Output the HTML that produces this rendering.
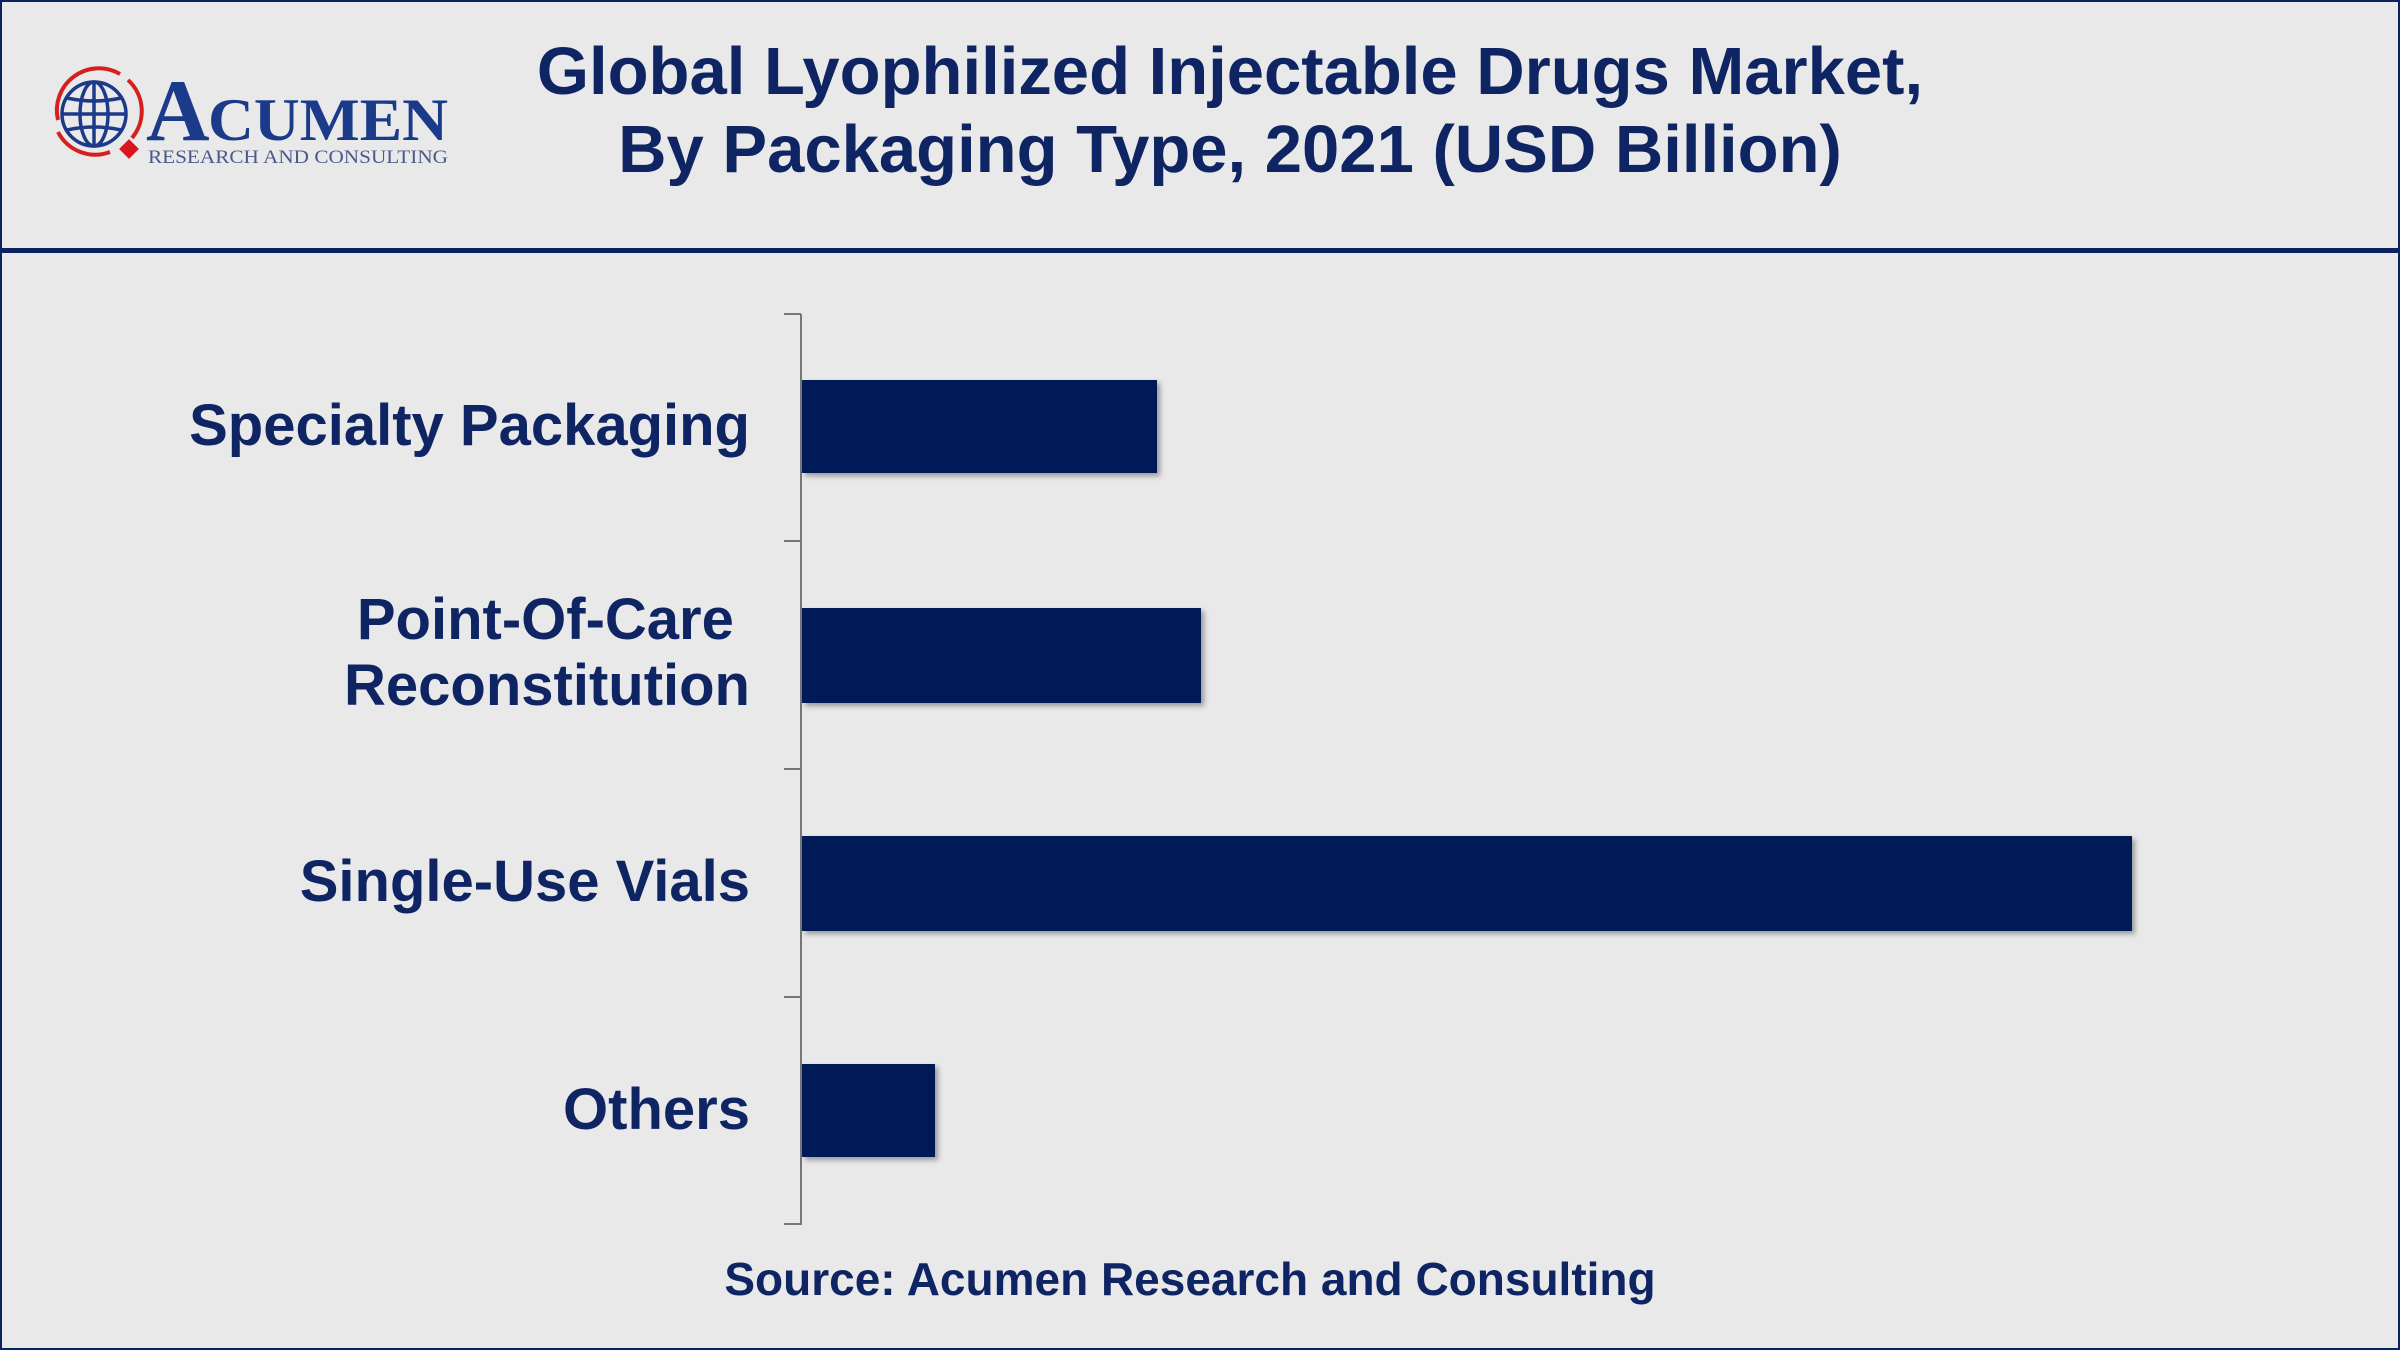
<!DOCTYPE html>
<html><head><meta charset="utf-8"><style>
html,body{margin:0;padding:0}
body{width:2400px;height:1350px;background:#e9e9e9;position:relative;overflow:hidden;font-family:"Liberation Sans",Arial,sans-serif}
.frame{position:absolute;left:0;top:0;width:2396px;height:1346px;border:2px solid #0a2260}
.hl{position:absolute;left:0;top:248px;width:2400px;height:5px;background:#0a2260}
.title{position:absolute;left:330px;width:1800px;text-align:center;top:33px;font-weight:bold;font-size:67px;line-height:78px;color:#0f2463}
.lab{position:absolute;right:1650px;text-align:right;font-weight:bold;font-size:58px;line-height:66px;color:#0f2463;white-space:nowrap}
.bar{position:absolute;left:802px;background:#001a57;box-shadow:3px 3px 5px rgba(0,0,0,0.35)}
.axis{position:absolute;left:800px;top:314px;width:2px;height:911px;background:#777}
.tick{position:absolute;left:784px;width:17px;height:2px;background:#777}
.src{position:absolute;left:0;width:2380px;text-align:center;top:1252px;font-weight:bold;font-size:46px;color:#0f2463}
</style></head><body>
<div class="frame"></div>
<div class="hl"></div>
<svg style="position:absolute;left:0;top:0" width="470" height="180">
 <g fill="none" stroke="#d62020" stroke-width="4">
  <path d="M 58 120 A 42 42 0 0 1 120 74"/>
  <path d="M 128 80 A 42 42 0 0 1 132 138"/>
  <path d="M 110 152 A 42 42 0 0 1 58 132"/>
 </g>
 <g fill="none" stroke="#1c3a8a" stroke-width="3.5">
  <circle cx="94" cy="114" r="32"/>
  <ellipse cx="94" cy="114" rx="14" ry="32"/>
  <line x1="94" y1="82" x2="94" y2="146"/>
  <line x1="62" y1="114" x2="126" y2="114"/>
  <path d="M 67 98 Q 94 104 121 98"/><path d="M 67 130 Q 94 124 121 130"/>
 </g>
 <rect x="122" y="142" width="14" height="14" fill="#d8161e" transform="rotate(45 129 149)"/>
 <text x="146" y="140" font-family="Liberation Serif,serif" font-weight="bold" font-size="88" fill="#1c3a8a">A</text>
 <text x="208" y="140" font-family="Liberation Serif,serif" font-weight="bold" font-size="60" fill="#1c3a8a" textLength="240" lengthAdjust="spacingAndGlyphs">CUMEN</text>
 <text x="148" y="163" font-family="Liberation Serif,serif" font-size="19" fill="#4a5a8a" textLength="300" lengthAdjust="spacingAndGlyphs">RESEARCH AND CONSULTING</text>
</svg>
<div class="title">Global Lyophilized Injectable Drugs Market,<br>By Packaging Type, 2021 (USD Billion)</div>
<div class="axis"></div>
<div class="tick" style="top:313px"></div>
<div class="tick" style="top:540px"></div>
<div class="tick" style="top:768px"></div>
<div class="tick" style="top:996px"></div>
<div class="tick" style="top:1223px"></div>
<div class="bar" style="top:380px;width:355px;height:93px"></div>
<div class="bar" style="top:608px;width:399px;height:95px"></div>
<div class="bar" style="top:836px;width:1330px;height:95px"></div>
<div class="bar" style="top:1064px;width:133px;height:93px"></div>
<div class="lab" style="top:393px">Specialty Packaging</div>
<div class="lab" style="top:587px">Point-Of-Care&nbsp;<br>Reconstitution</div>
<div class="lab" style="top:849px">Single-Use Vials</div>
<div class="lab" style="top:1077px">Others</div>
<div class="src">Source: Acumen Research and Consulting</div>
</body></html>
